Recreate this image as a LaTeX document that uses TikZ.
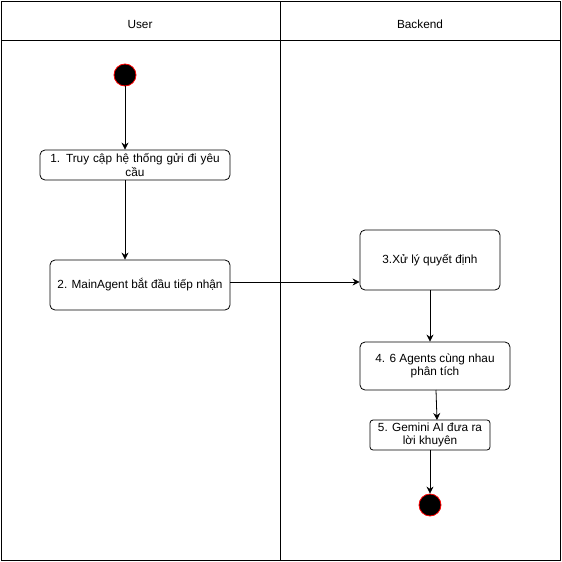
\documentclass[tikz,border=0pt]{standalone}
\usepackage{fontspec}
\setmainfont{Liberation Sans}
\usetikzlibrary{arrows.meta}
\begin{document}
\begin{tikzpicture}[x=1pt,y=-1pt,
  act/.style={draw,rounded corners=5pt,line width=0.8pt,align=center,font=\fontsize{11.8}{13.5}\selectfont,inner sep=0pt},
  flow/.style={draw,line width=0.8pt,-{Stealth[length=7pt,width=7pt]}},
  dot/.style={circle,fill=black,draw=red,line width=0.8pt,minimum size=22pt,inner sep=0pt},
  lane/.style={draw,line width=0.8pt}]
\useasboundingbox (0,0) rectangle (562,562);
\fill[white] (0,0) rectangle (562,562);
\draw[lane] (1,1) rectangle (560,560);
\draw[lane] (1,40) -- (560,40);
\draw[lane] (280,1) -- (280,560);
\node[font=\fontsize{11.8}{13.5}\selectfont] (hu) at (140,24) {User};
\node[font=\fontsize{11.8}{13.5}\selectfont] (hb) at (420,24) {Backend};
\node[dot] (start) at (125,75) {};
\node[act,minimum width=190pt,minimum height=30pt,text width=188pt] (b1) at (135,165) {1. Truy cập hệ thống gửi đi yêu\\cầu};
\node[act,minimum width=180pt,minimum height=50pt] (b2) at (140,285) {2. MainAgent bắt đầu tiếp nhận};
\node[act,minimum width=140pt,minimum height=60pt] (b3) at (430,260) {3.Xử lý quyết định};
\node[act,minimum width=150pt,minimum height=48pt] (b4) at (435,366) {4. 6 Agents cùng nhau\\phân tích};
\node[act,minimum width=120pt,minimum height=30pt,rounded corners=3pt] (b5) at (430,435) {5. Gemini AI đưa ra\\lời khuyên};
\node[dot] (end) at (430,505) {};
\draw[flow] (start) -- (start |- b1.north);
\draw[flow] (b1.south -| start) -- (b2.north -| start);
\draw[flow] (b2.east |- 0,282) -- (b3.west |- 0,282);
\draw[flow] (b3.south) -- (b4.north -| b3.south);
\draw[flow] (436,390) -- (437,420);
\draw[flow] (b5.south) -- (end);
\end{tikzpicture}
\end{document}
